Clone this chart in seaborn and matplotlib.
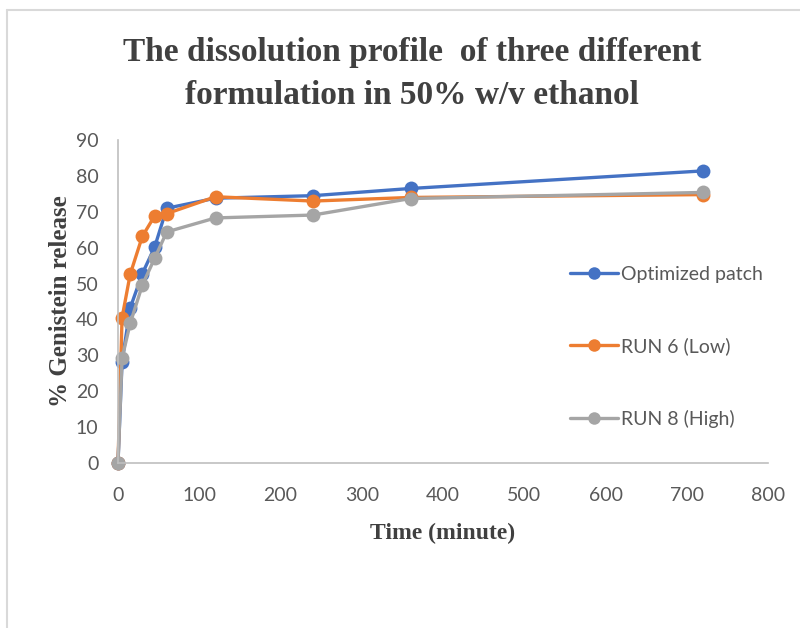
import matplotlib
matplotlib.use("Agg")
import matplotlib.pyplot as plt
import seaborn as sns
import pandas as pd
from matplotlib.lines import Line2D

time_min = [0, 5, 15, 30, 45, 60, 120, 240, 360, 720]
optimized = [0, 28.2, 43.2, 52.8, 60.1, 71.0, 73.8, 74.5, 76.5, 81.4]
run6_low = [0, 40.5, 52.6, 63.2, 68.8, 69.5, 74.2, 73.0, 74.0, 74.8]
run8_high = [0, 29.2, 38.9, 49.6, 57.0, 64.4, 68.3, 69.1, 73.7, 75.4]
series_names = ["Optimized patch", "RUN 6 (Low)", "RUN 8 (High)"]
x_ticks = [0, 100, 200, 300, 400, 500, 600, 700, 800]
y_ticks = [0, 10, 20, 30, 40, 50, 60, 70, 80, 90]

rows = []
for name, vals in zip(series_names, [optimized, run6_low, run8_high]):
    for t, v in zip(time_min, vals):
        rows.append({"Time": t, "Release": v, "Series": name})
df = pd.DataFrame(rows)

sns.set_theme(style="white")
plt.rcParams["font.family"] = ["Lato", "DejaVu Sans"]

fig = plt.figure(figsize=(8.0, 6.28), dpi=100)
ax = fig.add_axes([0.1475, 0.2627, 0.8125, 0.5143])

palette = {"Optimized patch": "#4472C4", "RUN 6 (Low)": "#ED7D31", "RUN 8 (High)": "#A5A5A5"}
sns.lineplot(data=df, x="Time", y="Release", hue="Series", hue_order=series_names,
             palette=palette, marker="o", markersize=10, markeredgewidth=0,
             linewidth=2.4, ax=ax, legend=False, sort=False, estimator=None)

ax.set_xlim(0, 800)
ax.set_ylim(0, 90)
ax.set_xticks(x_ticks)
ax.set_yticks(y_ticks)
ax.tick_params(axis="both", length=0, labelsize=14, labelcolor="#595959")
ax.tick_params(axis="x", pad=17)
ax.tick_params(axis="y", pad=14)
for s in ["top", "right"]:
    ax.spines[s].set_visible(False)
for s in ["left", "bottom"]:
    ax.spines[s].set_color("#BFBFBF")
    ax.spines[s].set_linewidth(1.2)
for line in ax.lines:
    line.set_clip_on(False)

serif = ["Liberation Serif", "DejaVu Serif"]
ax.set_xlabel("Time (minute)", fontsize=17, fontweight="bold", family=serif,
              color="#404040", labelpad=14)
ax.set_ylabel("% Genistein release", fontsize=18, fontweight="bold", family=serif,
              color="#404040", labelpad=3)

fig.text(0.515, 0.882, "The dissolution profile  of three different\nformulation in 50% w/v ethanol",
         ha="center", va="center", fontsize=24, fontweight="bold", family=serif,
         color="#404040", linespacing=1.48)

handles = [Line2D([0], [0], color=palette[n], lw=2.4, marker="o", markersize=9,
                  markeredgewidth=0) for n in series_names]
ax.legend(handles, series_names, loc="center left", bbox_to_anchor=(0.668, 0.36),
          frameon=False, fontsize=14, labelspacing=2.8, handlelength=2.5,
          handletextpad=0.15, labelcolor="#595959")

fig.add_artist(Line2D([0.009, 0.009], [0.0, 0.984], color="#D9D9D9", lw=1.5,
                      transform=fig.transFigure))
fig.add_artist(Line2D([0.009, 1.0], [0.984, 0.984], color="#D9D9D9", lw=1.5,
                      transform=fig.transFigure))

fig.savefig("out.png", dpi=100, facecolor="white")
